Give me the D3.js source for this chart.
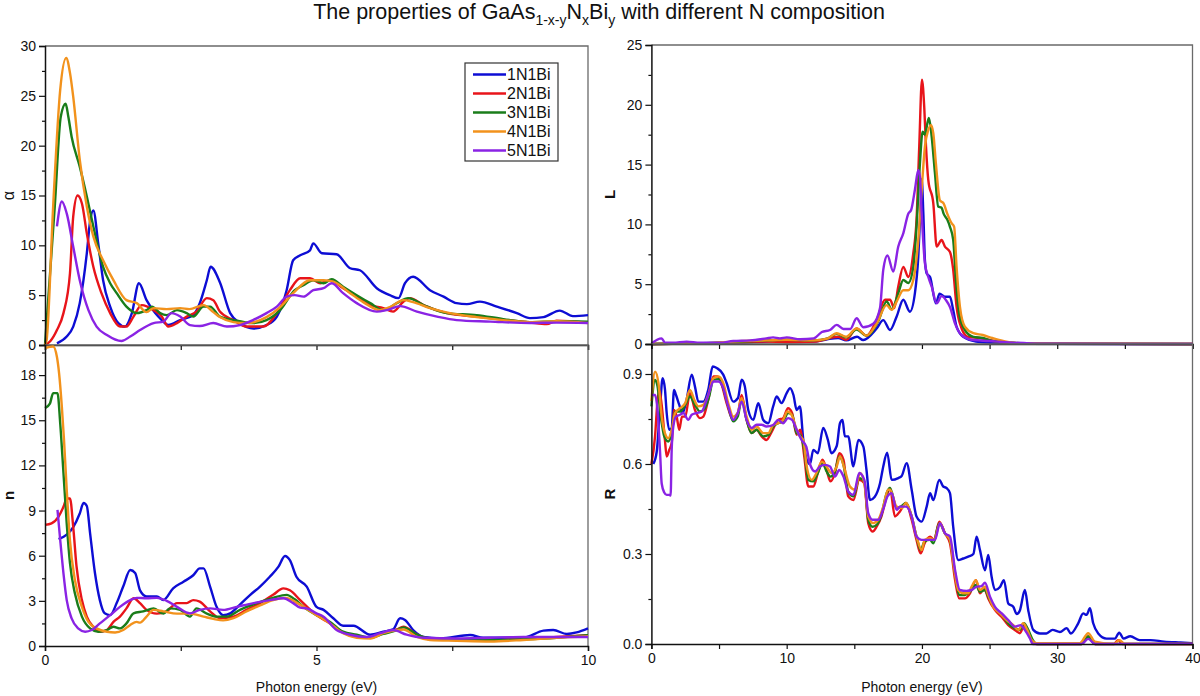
<!DOCTYPE html>
<html><head><meta charset="utf-8">
<script src="https://cdn.jsdelivr.net/npm/d3@7"></script>
<style>
html,body{margin:0;padding:0;background:#fff;}
svg{display:block;font-family:"Liberation Sans",Arial,Helvetica,sans-serif;}
</style></head>
<body>
<svg id="chart" width="1200" height="696"></svg>
<script>
// ---------- DATA ----------
const seriesNames = ["1N1Bi","2N1Bi","3N1Bi","4N1Bi","5N1Bi"];
const seriesColors = ["#0d0dd4","#e8141a","#1a7d1a","#f2921c","#8a23e4"];

const alphaTicks = [0,5,10,15,20,25,30];
const nTicks = [0,3,6,9,12,15,18];
const lTicks = [0,5,10,15,20,25];
const rTicks = [0,0.3,0.6,0.9];
const leftXTicks = [0,5,10];
const rightXTicks = [0,10,20,30,40];

// alpha (top-left)  [photon energy eV, value]
const alpha1 = [[0.22,0.17],[0.4,0.85],[0.52,1.85],[0.64,4.2],[0.77,9.2],[0.83,12.4],[0.89,13.5],[0.98,10.2],[1.07,6.5],[1.2,3.85],[1.35,2.2],[1.47,1.85],[1.6,3.2],[1.73,6.2],[1.87,4.5],[2.03,3.2],[2.15,2.5],[2.27,2.0],[2.49,2.5],[2.73,3.0],[2.85,4.2],[2.98,6.5],[3.05,7.85],[3.22,6.3],[3.41,3.2],[3.59,2.2],[3.84,1.65],[4.08,2.0],[4.27,2.85],[4.45,5.5],[4.57,8.5],[4.7,9.0],[4.88,9.5],[4.94,10.2],[5.1,9.2],[5.37,9.1],[5.62,7.7],[5.8,7.5],[6.11,5.7],[6.35,5.0],[6.51,4.7],[6.63,6.2],[6.78,6.85],[7.09,5.5],[7.34,4.85],[7.58,4.2],[7.77,4.1],[8.01,4.35],[8.32,3.85],[8.69,3.2],[8.93,2.7],[9.18,2.8],[9.48,3.45],[9.72,2.9],[10,3.0]];
const alpha2 = [[0,0],[0.1,0.4],[0.22,1.5],[0.34,3.2],[0.46,7.2],[0.52,12.9],[0.6,15.0],[0.68,14.2],[0.77,11.2],[0.89,7.85],[1.04,5.2],[1.2,3.2],[1.38,1.85],[1.5,1.85],[1.63,2.85],[1.78,4.0],[2.0,3.5],[2.15,2.85],[2.27,1.85],[2.43,2.2],[2.61,2.85],[2.79,3.35],[2.98,4.7],[3.1,4.5],[3.22,3.35],[3.47,2.5],[3.71,1.85],[4.02,1.85],[4.27,3.2],[4.51,5.5],[4.7,6.7],[4.88,6.7],[5.07,6.2],[5.25,6.5],[5.49,5.7],[5.74,4.85],[5.99,4.0],[6.23,3.7],[6.41,3.35],[6.6,4.35],[6.72,4.7],[6.97,4.0],[7.4,3.2],[7.95,2.85],[8.5,2.5],[8.93,2.25],[9.24,2.1],[9.42,2.45],[10,2.25]];
const alpha3 = [[0,0],[0.18,13.9],[0.29,22.9],[0.38,24.2],[0.43,22.9],[0.49,20.9],[0.64,17.9],[0.77,14.9],[0.89,11.9],[1.07,7.85],[1.2,6.2],[1.32,5.2],[1.5,3.85],[1.69,3.2],[1.87,3.5],[1.97,3.85],[2.12,3.2],[2.24,3.0],[2.43,3.5],[2.61,3.2],[2.73,2.85],[2.92,3.85],[3.04,3.85],[3.22,2.85],[3.47,2.5],[3.83,2.2],[4.08,2.5],[4.33,3.5],[4.6,5.5],[4.76,6.0],[4.94,6.5],[5.13,6.2],[5.28,6.6],[5.49,5.85],[5.74,5.0],[5.99,4.2],[6.23,3.5],[6.48,4.2],[6.69,4.7],[6.97,4.0],[7.4,3.2],[7.95,3.0],[8.44,2.6],[8.93,2.3],[9.42,2.4],[10,2.35]];
const alpha4 = [[0,0],[0.03,0.5],[0.15,13.9],[0.28,25.6],[0.39,28.8],[0.46,27.3],[0.52,24.9],[0.64,18.6],[0.77,13.9],[0.89,10.9],[1.07,8.5],[1.26,6.5],[1.5,4.5],[1.69,4.2],[1.87,3.3],[2.0,3.7],[2.24,3.6],[2.49,3.7],[2.66,3.6],[2.92,4.0],[3.1,3.3],[3.22,2.8],[3.47,2.3],[3.71,2.2],[4.08,2.8],[4.33,3.8],[4.57,5.2],[4.88,6.5],[5.13,6.5],[5.31,6.35],[5.62,5.2],[5.86,4.3],[6.17,3.5],[6.35,3.8],[6.6,4.5],[6.78,4.3],[7.09,3.7],[7.46,3.2],[7.95,2.8],[8.44,2.5],[8.93,2.3],[9.42,2.4],[10,2.2]];
const alpha5 = [[0.22,11.9],[0.31,14.4],[0.4,13.2],[0.52,9.85],[0.64,6.5],[0.8,3.5],[0.95,1.85],[1.14,1.0],[1.41,0.4],[1.57,0.85],[1.75,1.5],[2.0,2.2],[2.18,2.35],[2.33,3.2],[2.49,2.85],[2.67,2.0],[2.85,1.9],[3.1,2.2],[3.35,1.85],[3.59,2.0],[3.83,2.5],[4.08,3.2],[4.27,3.85],[4.45,4.85],[4.6,5.0],[4.76,4.85],[4.94,5.5],[5.13,5.7],[5.28,6.2],[5.49,5.2],[5.74,4.2],[6.11,3.35],[6.29,3.5],[6.54,3.9],[6.85,3.35],[7.22,2.85],[7.58,2.5],[8.2,2.35],[8.93,2.2],[9.42,2.25],[10,2.2]];

// n (bottom-left)
const n1 = [[0.25,7.1],[0.4,7.4],[0.52,7.9],[0.64,8.8],[0.71,9.5],[0.77,9.3],[0.83,7.5],[0.92,4.85],[1.01,3.05],[1.1,2.17],[1.2,2.05],[1.32,2.85],[1.44,3.95],[1.57,5.05],[1.66,4.85],[1.75,3.7],[1.87,3.3],[2.06,3.3],[2.18,3.05],[2.36,3.83],[2.55,4.27],[2.73,4.7],[2.85,5.16],[2.92,5.16],[3.04,3.95],[3.16,2.6],[3.28,2.05],[3.41,2.17],[3.59,2.75],[3.78,3.4],[3.96,3.95],[4.14,4.6],[4.3,5.27],[4.42,5.98],[4.51,5.7],[4.63,4.6],[4.82,3.95],[5.0,2.6],[5.13,2.4],[5.31,1.84],[5.49,1.35],[5.68,1.35],[5.99,0.75],[6.23,0.95],[6.41,1.1],[6.54,1.84],[6.63,1.73],[6.78,1.06],[6.97,0.6],[7.28,0.5],[7.83,0.73],[8.07,0.55],[8.81,0.55],[9.18,1.02],[9.36,1.06],[9.61,0.8],[9.79,0.9],[10,1.17]];
const n2 = [[0,8.05],[0.12,8.15],[0.25,8.6],[0.34,9.25],[0.4,9.8],[0.46,9.8],[0.52,7.9],[0.58,5.3],[0.68,3.05],[0.77,1.95],[0.89,1.28],[1.01,0.95],[1.14,1.06],[1.26,1.6],[1.38,1.95],[1.5,2.5],[1.63,3.17],[1.75,2.85],[1.87,2.4],[2.06,2.15],[2.24,2.3],[2.43,2.85],[2.61,2.85],[2.73,3.05],[2.85,2.95],[3.04,2.3],[3.22,1.85],[3.47,1.95],[3.71,2.4],[3.96,2.85],[4.2,3.4],[4.39,3.83],[4.51,3.7],[4.7,3.05],[5.0,2.05],[5.25,1.5],[5.49,0.9],[5.74,0.6],[5.99,0.55],[6.23,0.85],[6.48,1.1],[6.6,1.28],[6.85,0.75],[7.09,0.45],[7.58,0.4],[8.2,0.35],[8.81,0.5],[9.42,0.6],[10,0.72]];
const n3 = [[0,15.8],[0.09,16.1],[0.15,16.8],[0.23,16.8],[0.28,14.8],[0.34,11.5],[0.4,8.15],[0.46,5.5],[0.55,3.5],[0.68,1.95],[0.83,1.17],[0.98,0.95],[1.14,1.06],[1.26,1.28],[1.38,1.17],[1.5,1.5],[1.63,2.17],[1.81,2.3],[2.0,2.5],[2.18,2.15],[2.3,2.5],[2.49,2.4],[2.67,1.95],[2.79,2.5],[2.98,2.15],[3.16,1.95],[3.35,1.95],[3.59,2.4],[3.9,2.85],[4.2,3.2],[4.45,3.4],[4.6,3.1],[4.76,2.6],[5.0,2.05],[5.25,1.6],[5.49,0.95],[5.74,0.75],[5.99,0.55],[6.23,0.8],[6.48,1.06],[6.6,1.24],[6.85,0.75],[7.09,0.5],[7.58,0.45],[8.2,0.4],[8.81,0.45],[9.42,0.55],[10,0.72]];
const n4 = [[0,19.8],[0.15,19.9],[0.22,19.2],[0.26,18.1],[0.31,15.9],[0.35,13.7],[0.4,10.4],[0.46,7.0],[0.55,4.4],[0.68,2.6],[0.8,1.6],[0.95,1.17],[1.14,0.95],[1.29,0.9],[1.44,1.06],[1.57,1.4],[1.69,1.6],[1.75,1.55],[1.87,1.95],[2.0,2.4],[2.18,2.3],[2.43,2.15],[2.67,2.15],[2.92,1.95],[3.1,1.8],[3.28,1.7],[3.47,1.85],[3.71,2.3],[3.96,2.7],[4.2,3.05],[4.45,3.2],[4.6,2.95],[4.76,2.6],[5.0,2.05],[5.25,1.5],[5.49,0.85],[5.74,0.55],[5.99,0.5],[6.23,0.85],[6.48,1.06],[6.6,1.1],[6.85,0.6],[7.09,0.4],[7.58,0.35],[8.2,0.3],[8.81,0.4],[9.42,0.55],[10,0.65]];
const n5 = [[0.23,9.04],[0.28,7.05],[0.34,4.83],[0.4,3.05],[0.49,1.84],[0.61,1.17],[0.74,0.95],[0.86,1.06],[1.01,1.5],[1.2,2.05],[1.38,2.6],[1.57,3.05],[1.69,3.2],[1.87,3.17],[2.06,3.2],[2.24,3.0],[2.43,2.6],[2.67,2.17],[2.85,2.4],[3.04,2.5],[3.28,2.4],[3.53,2.6],[3.84,2.85],[4.14,3.05],[4.39,3.17],[4.57,2.85],[4.7,2.55],[4.82,2.5],[5.0,2.17],[5.13,1.95],[5.37,1.06],[5.62,0.75],[5.93,0.6],[6.17,0.85],[6.41,1.06],[6.66,0.75],[6.97,0.55],[7.58,0.5],[8.2,0.55],[8.81,0.6],[9.42,0.6],[10,0.6]];

// L (top-right)
const l1 = [[0,0],[8.5,0.2],[10,0.3],[12,0.2],[13,0.4],[13.8,0.5],[14.4,0.3],[15.2,0.6],[15.66,0.33],[16.65,1.3],[17.14,2.0],[17.64,1.17],[18.13,2.3],[18.62,3.7],[19.11,2.7],[19.48,4.25],[19.73,7.3],[19.9,11.5],[19.98,13.8],[20.1,11.0],[20.22,7.0],[20.35,5.9],[20.6,5.6],[21.03,3.4],[21.3,4.2],[21.7,3.95],[22.07,3.95],[22.3,2.9],[22.56,1.45],[23.05,0.6],[24,0.2],[25,0.1],[27,0.02],[40,0]];
const l2 = [[0,0],[5,0.05],[8.5,0.2],[10,0.15],[12,0.2],[13.8,0.6],[14.4,0.35],[15.17,1.3],[15.9,0.7],[16.65,2.0],[17.27,3.7],[17.64,3.7],[17.95,3.0],[18.25,4.8],[18.62,6.45],[18.99,5.6],[19.36,7.6],[19.6,10.4],[19.8,16.5],[20.0,22.1],[20.17,19.8],[20.3,16.5],[20.47,13.7],[20.84,11.75],[21.09,8.15],[21.45,8.7],[21.7,8.15],[22.07,7.7],[22.3,6.3],[22.56,3.1],[22.93,1.3],[23.4,0.6],[24.25,0.5],[25,0.33],[26,0.15],[28,0.03],[40,0]];
const l3 = [[0,0],[5,0.1],[8.5,0.3],[10,0.35],[12,0.3],[13,0.45],[13.7,0.85],[14.4,0.55],[15.17,1.2],[15.9,0.7],[16.77,1.9],[17.39,3.55],[17.76,2.9],[18.25,4.25],[18.62,5.35],[18.99,5.1],[19.36,6.45],[19.6,9.8],[19.85,15.1],[20.05,17.75],[20.22,17.5],[20.4,18.45],[20.52,18.9],[20.72,17.35],[20.96,14.3],[21.2,11.5],[21.45,11.4],[21.6,10.9],[21.87,10.4],[22.07,9.8],[22.31,8.7],[22.51,5.35],[22.75,2.55],[23.17,1.17],[23.8,0.6],[24.5,0.5],[25.2,0.25],[26.2,0.15],[28,0.03],[40,0]];
const l4 = [[0,0],[3.6,0.05],[6,0.2],[8.5,0.3],[10,0.35],[12,0.3],[13,0.45],[13.7,0.9],[14.4,0.6],[15.17,1.3],[15.9,0.7],[16.65,1.7],[17.39,3.25],[17.76,2.85],[18.13,3.55],[18.62,4.5],[18.99,4.5],[19.36,5.35],[19.73,8.7],[19.98,12.9],[20.22,16.5],[20.47,17.9],[20.67,18.3],[20.84,17.6],[21.03,15.1],[21.33,12.0],[21.6,11.75],[21.87,10.9],[22.19,10.1],[22.38,9.8],[22.56,6.45],[22.81,3.1],[23.17,1.45],[23.8,0.9],[24.5,0.75],[25.2,0.5],[26,0.25],[26.7,0.1],[28,0.03],[40,0]];
const l5 = [[0,0.05],[0.76,0.47],[1.0,0.1],[1.6,0.1],[2.6,0.2],[3.6,0.1],[5.07,0.1],[6.05,0.25],[7.3,0.3],[8.5,0.47],[9.0,0.55],[9.5,0.47],[10.0,0.55],[11.0,0.4],[12.0,0.47],[12.6,1.0],[13.2,1.17],[13.7,1.6],[14.2,1.25],[14.7,1.25],[15.17,2.15],[15.66,1.4],[16.4,1.7],[16.9,3.0],[17.14,6.2],[17.45,7.4],[17.88,6.05],[18.25,8.15],[18.62,9.25],[18.99,10.9],[19.2,11.2],[19.48,12.9],[19.73,14.55],[19.85,14.0],[19.98,10.9],[20.22,6.75],[20.47,5.6],[20.72,4.8],[21.09,3.4],[21.45,4.0],[21.82,3.6],[22.07,3.1],[22.44,1.73],[22.93,0.75],[23.8,0.33],[25,0.25],[26.2,0.15],[28,0.05],[30,0.02],[40,0]];

// R (bottom-right)
const r1 = [[0.14,0.6],[0.39,0.64],[0.64,0.79],[0.83,0.886],[1.0,0.85],[1.13,0.77],[1.32,0.714],[1.5,0.72],[1.67,0.847],[1.82,0.83],[2.06,0.797],[2.3,0.77],[2.6,0.814],[2.98,0.898],[3.22,0.858],[3.47,0.808],[3.84,0.808],[4.2,0.847],[4.53,0.925],[4.83,0.92],[5.31,0.898],[5.56,0.87],[6.05,0.808],[6.4,0.82],[6.67,0.881],[6.9,0.86],[7.16,0.78],[7.53,0.747],[7.9,0.803],[8.27,0.747],[8.64,0.736],[9.0,0.792],[9.26,0.825],[9.62,0.803],[10.0,0.836],[10.25,0.853],[10.5,0.83],[10.74,0.78],[10.98,0.792],[11.23,0.68],[11.48,0.614],[11.72,0.6],[11.97,0.647],[12.3,0.636],[12.7,0.72],[13.05,0.68],[13.3,0.636],[13.7,0.66],[13.94,0.736],[14.13,0.747],[14.3,0.692],[14.55,0.692],[14.93,0.592],[15.3,0.68],[15.67,0.658],[15.9,0.58],[16.16,0.48],[16.5,0.49],[16.9,0.536],[17.14,0.592],[17.43,0.638],[17.76,0.547],[18.25,0.553],[18.5,0.56],[18.87,0.603],[19.24,0.514],[19.6,0.425],[19.98,0.408],[20.35,0.458],[20.6,0.503],[20.84,0.48],[21.28,0.547],[21.57,0.525],[21.82,0.52],[22.07,0.503],[22.31,0.391],[22.68,0.28],[23.05,0.285],[23.42,0.291],[23.8,0.3],[24.04,0.358],[24.29,0.313],[24.66,0.246],[24.9,0.297],[25.15,0.224],[25.4,0.18],[25.77,0.19],[26.06,0.213],[26.38,0.135],[26.75,0.124],[27.0,0.1],[27.24,0.112],[27.61,0.18],[27.86,0.112],[28.23,0.047],[28.72,0.035],[29.2,0.035],[29.65,0.047],[30.2,0.04],[30.7,0.053],[31.0,0.035],[31.55,0.069],[31.92,0.102],[32.17,0.097],[32.42,0.119],[32.66,0.069],[33.03,0.035],[33.65,0.018],[34.27,0.018],[34.58,0.038],[34.9,0.018],[35.4,0.026],[36.1,0.013],[36.9,0.013],[37.9,0.008],[39.1,0.005],[40,0.003]];
const r2 = [[0,0.6],[0.27,0.692],[0.45,0.81],[0.58,0.847],[0.76,0.797],[1.0,0.68],[1.13,0.625],[1.32,0.647],[1.5,0.67],[1.67,0.78],[1.87,0.758],[2.06,0.714],[2.26,0.758],[2.5,0.758],[2.85,0.836],[3.22,0.78],[3.59,0.753],[3.84,0.758],[4.2,0.814],[4.58,0.892],[4.88,0.892],[5.2,0.864],[5.56,0.803],[6.05,0.747],[6.38,0.764],[6.67,0.83],[7.04,0.747],[7.41,0.703],[7.78,0.714],[8.15,0.692],[8.5,0.68],[8.9,0.708],[9.37,0.747],[9.74,0.753],[10.1,0.786],[10.4,0.77],[10.74,0.697],[11.0,0.714],[11.3,0.625],[11.6,0.525],[11.97,0.525],[12.3,0.57],[12.65,0.614],[12.95,0.58],[13.24,0.542],[13.57,0.57],[13.89,0.636],[14.2,0.614],[14.55,0.492],[14.93,0.48],[15.37,0.547],[15.74,0.536],[16.03,0.403],[16.35,0.375],[16.65,0.391],[17.0,0.425],[17.39,0.492],[17.64,0.52],[18.0,0.425],[18.37,0.442],[18.82,0.47],[19.24,0.414],[19.6,0.347],[19.9,0.302],[20.2,0.336],[20.6,0.358],[20.9,0.347],[21.28,0.408],[21.7,0.369],[22.07,0.336],[22.45,0.213],[22.75,0.152],[23.17,0.152],[23.55,0.169],[23.99,0.213],[24.29,0.169],[24.6,0.185],[24.9,0.152],[25.4,0.113],[25.9,0.09],[26.38,0.063],[26.87,0.047],[27.24,0.036],[27.54,0.06],[27.86,0.036],[28.2,0.008],[28.5,0],[31.8,0],[32.29,0.025],[32.8,0],[34.2,0],[34.5,0.013],[34.8,0],[40,0]];
const r3 = [[0,0.792],[0.27,0.88],[0.45,0.86],[0.7,0.758],[0.95,0.692],[1.25,0.675],[1.5,0.703],[1.75,0.775],[2.12,0.775],[2.5,0.797],[2.85,0.825],[3.22,0.797],[3.59,0.775],[3.96,0.786],[4.27,0.825],[4.58,0.881],[4.95,0.883],[5.31,0.853],[5.68,0.792],[6.05,0.742],[6.38,0.758],[6.67,0.814],[7.04,0.747],[7.41,0.703],[7.78,0.714],[8.27,0.692],[8.64,0.697],[9.0,0.725],[9.37,0.736],[9.74,0.742],[10.1,0.77],[10.4,0.764],[10.74,0.703],[11.0,0.697],[11.3,0.647],[11.6,0.547],[11.97,0.542],[12.3,0.57],[12.65,0.603],[12.95,0.575],[13.24,0.558],[13.57,0.575],[13.89,0.625],[14.2,0.597],[14.55,0.508],[14.93,0.492],[15.37,0.553],[15.74,0.542],[16.03,0.414],[16.35,0.391],[16.65,0.397],[17.0,0.43],[17.39,0.503],[17.64,0.52],[18.13,0.453],[18.5,0.46],[18.82,0.47],[19.24,0.425],[19.6,0.358],[19.9,0.313],[20.2,0.342],[20.6,0.347],[20.84,0.336],[21.28,0.403],[21.7,0.369],[22.07,0.347],[22.45,0.235],[22.75,0.163],[23.17,0.163],[23.55,0.174],[23.99,0.197],[24.29,0.174],[24.66,0.18],[24.9,0.158],[25.4,0.119],[25.9,0.097],[26.38,0.069],[26.87,0.052],[27.24,0.047],[27.54,0.069],[27.86,0.047],[28.2,0.013],[28.5,0],[31.8,0],[32.29,0.025],[32.8,0],[40,0]];
const r4 = [[0,0.81],[0.27,0.908],[0.52,0.87],[0.76,0.758],[1.0,0.703],[1.25,0.686],[1.5,0.714],[1.75,0.77],[2.12,0.786],[2.5,0.803],[2.85,0.847],[3.17,0.814],[3.47,0.792],[3.84,0.797],[4.2,0.83],[4.58,0.886],[4.95,0.892],[5.31,0.87],[5.68,0.803],[6.05,0.758],[6.38,0.77],[6.67,0.82],[7.04,0.758],[7.41,0.714],[7.78,0.725],[8.27,0.703],[8.64,0.703],[9.0,0.73],[9.37,0.736],[9.74,0.747],[10.05,0.775],[10.37,0.764],[10.74,0.714],[10.98,0.692],[11.23,0.68],[11.48,0.592],[11.85,0.547],[12.2,0.57],[12.6,0.608],[12.95,0.592],[13.3,0.57],[13.7,0.592],[13.94,0.625],[14.3,0.58],[14.68,0.525],[15.05,0.514],[15.42,0.57],[15.74,0.536],[16.03,0.425],[16.4,0.403],[16.77,0.414],[17.14,0.458],[17.5,0.514],[17.64,0.514],[18.13,0.458],[18.5,0.453],[18.82,0.47],[19.24,0.425],[19.6,0.358],[19.98,0.313],[20.2,0.347],[20.6,0.353],[20.9,0.347],[21.33,0.403],[21.7,0.369],[22.07,0.347],[22.36,0.258],[22.68,0.18],[23.05,0.169],[23.42,0.169],[23.67,0.191],[23.99,0.213],[24.29,0.18],[24.66,0.191],[24.9,0.163],[25.27,0.124],[25.77,0.102],[26.26,0.08],[26.75,0.063],[27.12,0.047],[27.49,0.069],[27.78,0.047],[28.11,0.013],[28.47,0.003],[31.67,0.003],[32.29,0.036],[32.78,0.008],[34.2,0],[34.6,0.013],[35,0],[40,0]];
const r5 = [[0.05,0.83],[0.27,0.83],[0.45,0.78],[0.64,0.64],[0.76,0.535],[0.95,0.505],[1.13,0.497],[1.32,0.497],[1.42,0.495],[1.5,0.647],[1.62,0.725],[1.82,0.758],[2.12,0.764],[2.36,0.77],[2.73,0.747],[2.98,0.764],[3.35,0.77],[3.72,0.775],[4.04,0.808],[4.33,0.847],[4.58,0.875],[4.95,0.875],[5.27,0.858],[5.68,0.792],[6.05,0.747],[6.38,0.77],[6.67,0.808],[7.04,0.747],[7.41,0.72],[7.78,0.731],[8.15,0.731],[8.5,0.725],[9.0,0.73],[9.37,0.747],[9.74,0.736],[10.1,0.753],[10.4,0.747],[10.74,0.714],[11.1,0.68],[11.45,0.658],[11.72,0.6],[12.1,0.575],[12.47,0.592],[12.84,0.597],[13.2,0.592],[13.57,0.558],[13.89,0.58],[14.2,0.558],[14.55,0.508],[14.93,0.497],[15.37,0.57],[15.74,0.547],[16.03,0.436],[16.35,0.414],[16.77,0.414],[17.2,0.458],[17.45,0.492],[17.76,0.503],[18.13,0.447],[18.37,0.458],[18.82,0.458],[19.24,0.425],[19.6,0.358],[19.98,0.347],[20.35,0.347],[20.72,0.347],[20.96,0.347],[21.33,0.403],[21.7,0.369],[22.07,0.358],[22.45,0.246],[22.8,0.18],[23.3,0.177],[23.67,0.18],[24.04,0.191],[24.4,0.193],[24.66,0.204],[25.03,0.158],[25.4,0.124],[25.9,0.102],[26.38,0.08],[26.87,0.058],[27.3,0.063],[27.6,0.047],[27.98,0.019],[28.2,0],[31.8,0],[32.29,0.017],[32.8,0],[40,0]];

const alphaSeries = [alpha1,alpha2,alpha3,alpha4,alpha5];
const nSeries = [n1,n2,n3,n4,n5];
const lSeries = [l1,l2,l3,l4,l5];
const rSeries = [r1,r2,r3,r4,r5];

// ---------- DRAWING ----------
const svg = d3.select("#chart");
const FONT = '"Liberation Sans",Arial,Helvetica,sans-serif';

function midpoints(ticks){
  const m=[]; for(let i=0;i<ticks.length-1;i++) m.push((ticks[i]+ticks[i+1])/2);
  return m;
}

function panel(o){
  const x = d3.scaleLinear().domain(o.xDomain).range(o.xRange);
  const y = d3.scaleLinear().domain(o.yDomain).range(o.yRange);
  const g = svg.append("g");
  const [x0,x1]=o.xRange, [yb,yt]=o.yRange;
  g.append("path").attr("d",`M${x0},${yt}H${x1}V${yb}`).attr("fill","none").attr("stroke","#6a6a6a").attr("stroke-width",1.3);
  const line = d3.line().x(d=>x(d[0])).y(d=>y(d[1])).curve(d3.curveMonotoneX);
  o.series.forEach((s,i)=>{
    g.append("path").datum(s).attr("d",line).attr("fill","none")
      .attr("stroke",seriesColors[i]).attr("stroke-width",2.4).attr("stroke-linejoin","round");
  });
  const yAx = g.append("g").attr("transform",`translate(${x0},0)`)
    .call(d3.axisLeft(y).tickValues(o.yTicks).tickSize(6).tickPadding(3).tickFormat(o.yFormat));
  const yMin = g.append("g").attr("transform",`translate(${x0},0)`)
    .call(d3.axisLeft(y).tickValues(o.yMinor).tickSize(3).tickFormat(""));
  yMin.select(".domain").remove();
  const xAx = g.append("g").attr("transform",`translate(0,${yb})`)
    .call(d3.axisBottom(x).tickValues(o.xTicks).tickSize(5).tickPadding(4).tickFormat(o.showX? d3.format("d") : ""));
  const xMin = g.append("g").attr("transform",`translate(0,${yb})`)
    .call(d3.axisBottom(x).tickValues(o.xMinor).tickSize(5).tickFormat(""));
  xMin.select(".domain").remove();
  [yAx,yMin,xAx,xMin].forEach(a=>{
    a.selectAll("path.domain").attr("stroke","#111").attr("stroke-width",1.5);
    a.selectAll(".tick line").attr("stroke","#111").attr("stroke-width",1.2);
    a.selectAll("text").attr("font-family",FONT).attr("font-size",14).attr("fill","#111");
  });
  g.append("text").attr("transform",`translate(${o.yTitleX},${(yb+yt)/2}) rotate(-90)`)
    .attr("text-anchor","middle").attr("font-family",FONT).attr("font-size",o.yTitleSize||15)
    .attr("font-weight",o.yTitleBold?"bold":"normal").attr("fill","#111").text(o.yTitle);
  if(o.showX){
    g.append("text").attr("x",(x0+x1)/2).attr("y",692).attr("text-anchor","middle")
      .attr("font-family",FONT).attr("font-size",14).attr("fill","#111").text("Photon energy (eV)");
  }
  return {x,y,g};
}

const LX=[45,588], RX=[651.4,1192.5];

panel({xDomain:[0,10],xRange:LX,yDomain:[0,30],yRange:[345,46],series:alphaSeries,
  yTicks:alphaTicks,yMinor:midpoints(alphaTicks),yFormat:d3.format("d"),
  xTicks:leftXTicks,xMinor:midpoints(leftXTicks),showX:false,yTitle:"α",yTitleX:14,yTitleSize:16});
panel({xDomain:[0,10],xRange:LX,yDomain:[0,20],yRange:[646,345],series:nSeries,
  yTicks:nTicks,yMinor:midpoints(nTicks).concat([19.5]),yFormat:d3.format("d"),
  xTicks:leftXTicks,xMinor:midpoints(leftXTicks),showX:true,yTitle:"n",yTitleX:14,yTitleBold:true});
panel({xDomain:[0,40],xRange:RX,yDomain:[0,25],yRange:[344,45],series:lSeries,
  yTicks:lTicks,yMinor:midpoints(lTicks),yFormat:d3.format("d"),
  xTicks:rightXTicks,xMinor:midpoints(rightXTicks),showX:false,yTitle:"L",yTitleX:615,yTitleBold:true});
panel({xDomain:[0,40],xRange:RX,yDomain:[0,1.0],yRange:[644,344],series:rSeries,
  yTicks:rTicks,yMinor:midpoints(rTicks),yFormat:d3.format(".1f"),
  xTicks:rightXTicks,xMinor:midpoints(rightXTicks),showX:true,yTitle:"R",yTitleX:615,yTitleBold:true});

// legend
const lg = svg.append("g");
lg.append("rect").attr("x",465).attr("y",63).attr("width",93).attr("height",98)
  .attr("fill","#fff").attr("stroke","#333").attr("stroke-width",1.2);
seriesNames.forEach((nm,i)=>{
  const yy = 74.5 + i*19;
  lg.append("line").attr("x1",473).attr("x2",506).attr("y1",yy).attr("y2",yy)
    .attr("stroke",seriesColors[i]).attr("stroke-width",2.4);
  lg.append("text").attr("x",507).attr("y",yy).attr("dy","0.36em").attr("font-family",FONT)
    .attr("font-size",16).attr("fill","#111").text(nm);
});

// title
const t = svg.append("text").attr("x",599).attr("y",19).attr("text-anchor","middle")
  .attr("font-family",FONT).attr("font-size",21.5).attr("fill","#111");
t.append("tspan").text("The properties of GaAs");
t.append("tspan").attr("font-size",14).attr("dy",6).text("1-x-y");
t.append("tspan").attr("dy",-6).text("N");
t.append("tspan").attr("font-size",14).attr("dy",6).text("x");
t.append("tspan").attr("dy",-6).text("Bi");
t.append("tspan").attr("font-size",14).attr("dy",6).text("y");
t.append("tspan").attr("dy",-6).text(" with different N composition");
</script>
</body></html>
